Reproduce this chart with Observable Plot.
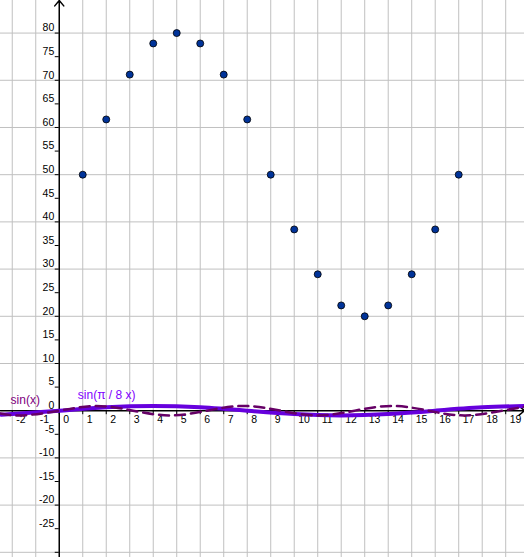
<!DOCTYPE html>
<html>
<head>
<meta charset="utf-8">
<script src="https://cdn.jsdelivr.net/npm/d3@7"></script>
<script src="https://cdn.jsdelivr.net/npm/@observablehq/plot@0.6"></script>
<style>
  html, body { margin: 0; padding: 0; background: #ffffff; }
  #chart svg { display: block; }
</style>
</head>
<body>
<div id="chart"></div>
<script>
// ---- data ----
const pointX = [1, 2, 3, 4, 5, 6, 7, 8, 9, 10, 11, 12, 13, 14, 15, 16, 17];
const pointY = [50, 61.7, 71.2, 77.8, 80, 77.8, 71.2, 61.7, 50, 38.4, 28.9, 22.3, 20, 22.3, 28.9, 38.4, 50];

// sin(x): knots read at zeros / extremes of the dashed curve
const sinXKnotX = [-2.5, -1.57, 0, 1.57, 3.14, 4.71, 6.28, 7.85, 9.42, 11.0, 12.57, 14.14, 15.71, 17.28, 18.85, 19.8];
const sinXKnotY = [-0.6, -1, 0, 1, 0, -1, 0, 1, 0, -1, 0, 1, 0, -1, 0, 0.81];

// sin(π / 8 x): knots
const sinPiKnotX = [-2.5, -2, 0, 2, 4, 6, 8, 10, 12, 14, 16, 18, 19.8];
const sinPiKnotY = [-0.83, -0.71, 0, 0.71, 1, 0.71, 0, -0.71, -1, -0.71, 0, 0.71, 0.99];

const xTickLabels = [-2, -1, 0, 1, 2, 3, 4, 5, 6, 7, 8, 9, 10, 11, 12, 13, 14, 15, 16, 17, 18, 19];
const yTickLabels = [-25, -20, -15, -10, -5, 0, 5, 10, 15, 20, 25, 30, 35, 40, 45, 50, 55, 60, 65, 70, 75, 80];
const yTickMarks = [-30, -25, -20, -15, -10, -5, 5, 10, 15, 20, 25, 30, 35, 40, 45, 50, 55, 60, 65, 70, 75, 80];
const xGridLines = [-2, -1, 1, 2, 3, 4, 5, 6, 7, 8, 9, 10, 11, 12, 13, 14, 15, 16, 17, 18, 19];
const yGridLines = [-30, -20, -10, 10, 20, 30, 40, 50, 60, 70, 80];
const curveLabels = ["sin(x)", "sin(π / 8 x)"];

const xDomain = [-2.5, 19.8];
const yDomain = [-31.1, 86.9];

// ---- tables ----
const points = pointX.map((x, i) => ({x, y: pointY[i]}));
const sinX = sinXKnotX.map((x, i) => ({x, y: sinXKnotY[i]}));
const sinPi = sinPiKnotX.map((x, i) => ({x, y: sinPiKnotY[i]}));

const chart = Plot.plot({
  width: 524,
  height: 557,
  margin: 0,
  style: {background: "#ffffff", fontFamily: "'Liberation Sans', Arial, sans-serif", fontSize: "10.5px", color: "#000"},
  x: {domain: xDomain, axis: null},
  y: {domain: yDomain, axis: null},
  marks: [
    // grid
    Plot.ruleX(xGridLines, {x: d => d, stroke: "#c0c0c0", strokeWidth: 1, strokeOpacity: 1}),
    Plot.ruleY(yGridLines, {y: d => d, stroke: "#c0c0c0", strokeWidth: 1, strokeOpacity: 1}),
    // axes with arrow heads
    Plot.arrow([0], {x1: () => xDomain[0], y1: () => 0, x2: () => xDomain[1], y2: () => 0,
      stroke: "#000", strokeWidth: 1.5, headLength: 7, headAngle: 80, bend: 0}),
    Plot.arrow([0], {x1: () => 0, y1: () => yDomain[0], x2: () => 0, y2: () => yDomain[1],
      stroke: "#000", strokeWidth: 1.5, headLength: 7, headAngle: 80, bend: 0}),
    // tick marks
    Plot.ruleX(xTickLabels, {x: d => d, y1: () => 0, y2: () => 0, insetBottom: -4, stroke: "#000", strokeWidth: 1}),
    Plot.ruleY(yTickMarks, {y: d => d, x1: () => 0, x2: () => 0, insetLeft: -4, stroke: "#000", strokeWidth: 1}),
    // tick labels
    Plot.text(xTickLabels, {x: d => d, y: () => 0, text: d => String(d), textAnchor: "start", dx: 4, dy: 9, fill: "#000"}),
    Plot.text(yTickLabels, {x: () => 0, y: d => d, text: d => String(d), textAnchor: "end", dx: -5, dy: -5, fill: "#000"}),
    // curves
    Plot.line(sinPi, {x: "x", y: "y", curve: "natural", stroke: "#6600dd", strokeWidth: 4, clip: true}),
    Plot.line(sinX, {x: "x", y: "y", curve: "natural", stroke: "#660066", strokeWidth: 2.5, strokeDasharray: "10,6", clip: true}),
    // curve labels
    Plot.text([curveLabels[0]], {x: () => -2.07, y: () => 2.2, text: d => d, textAnchor: "start", fill: "#800080", fontSize: 12}),
    Plot.text([curveLabels[1]], {x: () => 0.79, y: () => 3.2, text: d => d, textAnchor: "start", fill: "#7f00ff", fontSize: 12}),
    // points
    Plot.dot(points, {x: "x", y: "y", r: 3.5, fill: "#003399", stroke: "#000", strokeWidth: 0.8})
  ]
});
document.getElementById("chart").appendChild(chart);
</script>
</body>
</html>
